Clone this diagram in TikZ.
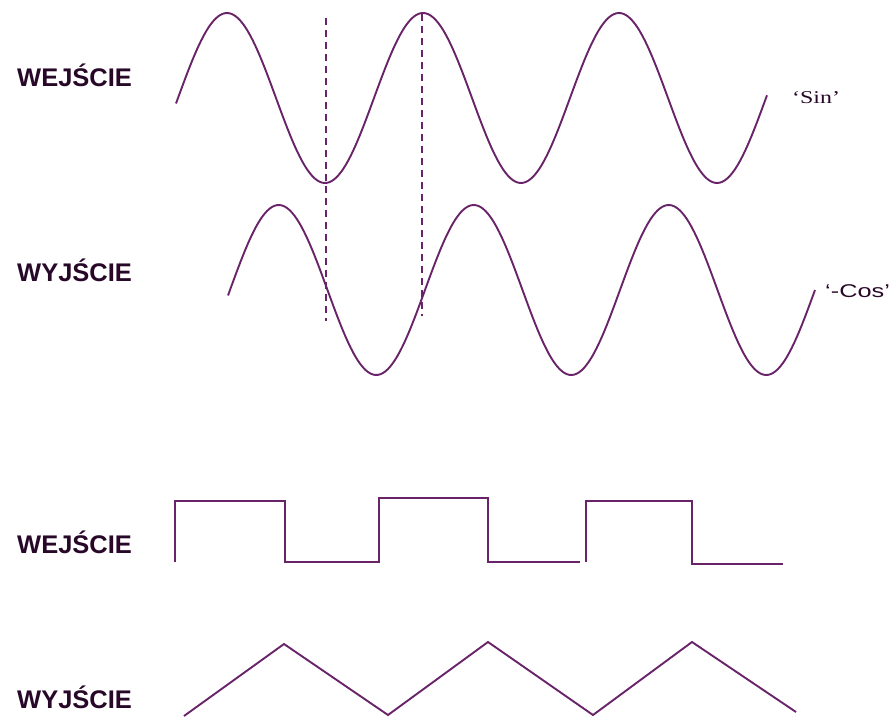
\documentclass[tikz,border=0pt]{standalone}
\usepackage{fontspec}
\newfontfamily\labfont{Liberation Sans}
\newfontfamily\serfont{Liberation Serif}
\definecolor{wave}{RGB}{105,35,105}
\definecolor{labtxt}{RGB}{40,8,40}
\tikzset{
  sig/.style={draw=wave, line width=1.9pt, line join=miter},
  guide/.style={draw=wave, line width=1.9pt, dash pattern=on 7pt off 5pt},
  lab/.style={anchor=base west, inner sep=0pt, text=labtxt, font=\labfont\bfseries\fontsize{25.5}{28}\selectfont},
  tag/.style={anchor=base west, inner sep=0pt, text=labtxt}
}
\begin{document}
\begin{tikzpicture}[x=1pt, y=-1pt]
\useasboundingbox (0,0) rectangle (895,717);
% labels
\node[lab] (in1) at (17,87) {WEJŚCIE};
\node[lab] (out1) at (17,281) {WYJŚCIE};
\node[lab] (in2) at (17,553) {WEJŚCIE};
\node[lab] (out2) at (17,708) {WYJŚCIE};
\node[tag, font=\serfont\fontsize{18}{20}\selectfont] (sin) at (792,103) {\scalebox{1.33}[1]{‘Sin’}};
\node[tag, font=\labfont\fontsize{18.5}{20}\selectfont] (cos) at (825,297) {\scalebox{1.37}[1]{‘-Cos’}};
% sine input
\draw[sig] plot[domain=176:767, samples=240, smooth] (\x, {98-85*sin(1.836735*(\x-178))});
% -cos output
\draw[sig] plot[domain=228:815, samples=240, smooth] (\x, {290-85*sin(1.846154*(\x-230))});
% dashed guides
\coordinate (g1t) at (326,18);
\coordinate (g1b) at (326,321);
\coordinate (g2t) at (422,14);
\coordinate (g2b) at (422,316);
\draw[guide] (g1t) -- (g1b);
\draw[guide] (g2t) -- (g2b);
% square wave
\draw[sig] (175,562) -- (175,501) -- (285,501) -- (285,562) -- (379,562) -- (379,498) -- (488,498) -- (488,562) -- (580,562);
\draw[sig] (586,562) -- (586,501) -- (692,501) -- (692,564) -- (783,564);
% triangle wave
\draw[sig] (184,716) -- (284,644) -- (388,715) -- (488,642) -- (593,715) -- (692,642) -- (796,712);
\end{tikzpicture}
\end{document}
